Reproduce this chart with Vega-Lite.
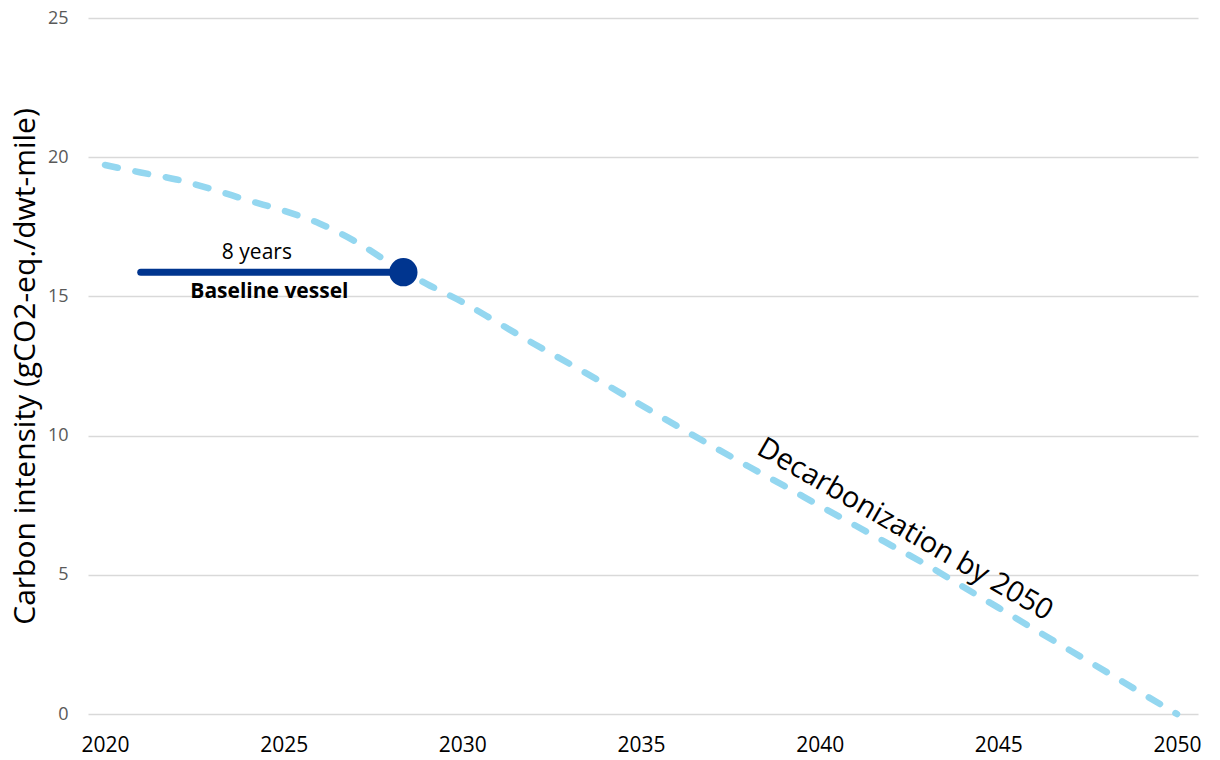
{
  "$schema": "https://vega.github.io/schema/vega-lite/v6.json",
  "width": 1110,
  "height": 696,
  "autosize": "none",
  "padding": {"left": 88, "top": 18, "right": 22, "bottom": 46},
  "background": "white",
  "config": {
    "font": "Open Sans",
    "view": {"stroke": null}
  },
  "datasets": {
    "curve": [
      {"year": 2020, "intensity": 19.72},
      {"year": 2021, "intensity": 19.45},
      {"year": 2022, "intensity": 19.2},
      {"year": 2023, "intensity": 18.85},
      {"year": 2024, "intensity": 18.45},
      {"year": 2025, "intensity": 18.08},
      {"year": 2026, "intensity": 17.62},
      {"year": 2027, "intensity": 16.98},
      {"year": 2028, "intensity": 16.18},
      {"year": 2029, "intensity": 15.45},
      {"year": 2030, "intensity": 14.8},
      {"year": 2031, "intensity": 14.05},
      {"year": 2032, "intensity": 13.3},
      {"year": 2033, "intensity": 12.58},
      {"year": 2034, "intensity": 11.85},
      {"year": 2035, "intensity": 11.1},
      {"year": 2036, "intensity": 10.35},
      {"year": 2037, "intensity": 9.62},
      {"year": 2038, "intensity": 8.9},
      {"year": 2039, "intensity": 8.2},
      {"year": 2040, "intensity": 7.48},
      {"year": 2041, "intensity": 6.77},
      {"year": 2042, "intensity": 6.06},
      {"year": 2043, "intensity": 5.35},
      {"year": 2044, "intensity": 4.58},
      {"year": 2045, "intensity": 3.82},
      {"year": 2046, "intensity": 3.05},
      {"year": 2047, "intensity": 2.29},
      {"year": 2048, "intensity": 1.53},
      {"year": 2049, "intensity": 0.76},
      {"year": 2050, "intensity": 0}
    ],
    "vessel": [
      {"start": 2021.0, "end": 2028.35, "intensity": 15.87}
    ]
  },
  "layer": [
    {
      "data": {"name": "curve"},
      "mark": {"type": "line", "interpolate": "monotone", "color": "#94d7f0", "strokeWidth": 6.5, "strokeDash": [13, 18], "strokeCap": "round"},
      "encoding": {
        "x": {
          "field": "year", "type": "quantitative",
          "scale": {"domain": [2019.524, 2050.588], "nice": false, "zero": false},
          "axis": {
            "values": [2020, 2025, 2030, 2035, 2040, 2045, 2050],
            "format": "d", "grid": false, "domain": false, "ticks": false,
            "labelFontSize": 21, "labelColor": "#000000", "labelPadding": 20,
            "labelFont": "Open Sans", "title": null
          }
        },
        "y": {
          "field": "intensity", "type": "quantitative",
          "scale": {"domain": [0, 25], "nice": false},
          "axis": {
            "values": [0, 5, 10, 15, 20, 25],
            "grid": true, "gridColor": "#d9d9d9", "gridWidth": 1.3,
            "domain": false, "ticks": false,
            "labelFontSize": 18, "labelColor": "#595959", "labelPadding": 20,
            "labelFont": "Open Sans",
            "title": "Carbon intensity (gCO2-eq./dwt-mile)",
            "titleFont": "Open Sans", "titleFontSize": 30, "titleFontWeight": "normal",
            "titleColor": "#000000",
            "titleX": -63, "titleY": 348, "titleAngle": -90,
            "titleAlign": "center", "titleBaseline": "middle"
          }
        }
      }
    },
    {
      "data": {"name": "vessel"},
      "mark": {"type": "rule", "color": "#00358f", "strokeWidth": 7, "strokeCap": "round"},
      "encoding": {
        "x": {"field": "start", "type": "quantitative"},
        "x2": {"field": "end"},
        "y": {"field": "intensity", "type": "quantitative"}
      }
    },
    {
      "data": {"name": "vessel"},
      "mark": {"type": "point", "filled": true, "shape": "circle", "color": "#00358f", "size": 800, "opacity": 1},
      "encoding": {
        "x": {"field": "end", "type": "quantitative"},
        "y": {"field": "intensity", "type": "quantitative"}
      }
    },
    {
      "data": {"values": [{"year": 2024.25, "intensity": 15.87, "label": "8 years"}]},
      "mark": {"type": "text", "fontSize": 21, "color": "#000000", "align": "center", "baseline": "alphabetic", "dy": -13, "font": "Open Sans"},
      "encoding": {
        "x": {"field": "year", "type": "quantitative"},
        "y": {"field": "intensity", "type": "quantitative"},
        "text": {"field": "label"}
      }
    },
    {
      "data": {"values": [{"year": 2024.6, "intensity": 15.87, "label": "Baseline vessel"}]},
      "mark": {"type": "text", "fontSize": 21, "fontWeight": "bold", "color": "#000000", "align": "center", "baseline": "alphabetic", "dy": 26, "font": "Open Sans"},
      "encoding": {
        "x": {"field": "year", "type": "quantitative"},
        "y": {"field": "intensity", "type": "quantitative"},
        "text": {"field": "label"}
      }
    },
    {
      "data": {"values": [{"year": 2042.39, "intensity": 6.63, "label": "Decarbonization by 2050"}]},
      "mark": {"type": "text", "fontSize": 29, "color": "#000000", "align": "center", "baseline": "middle", "angle": 30, "font": "Open Sans"},
      "encoding": {
        "x": {"field": "year", "type": "quantitative"},
        "y": {"field": "intensity", "type": "quantitative"},
        "text": {"field": "label"}
      }
    }
  ]
}
